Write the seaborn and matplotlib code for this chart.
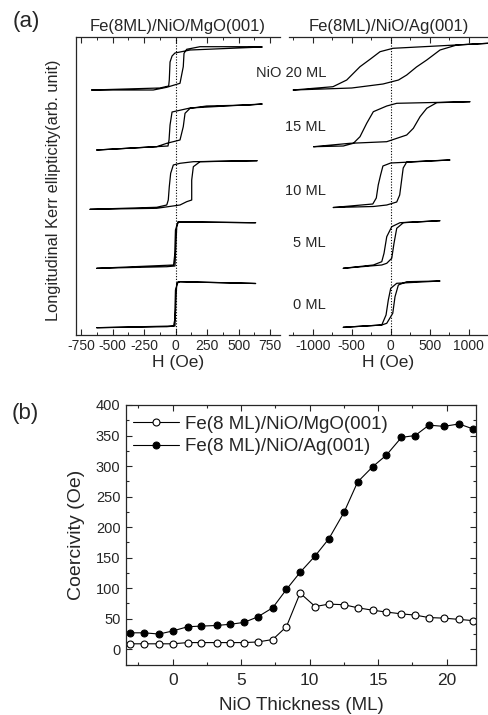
import numpy as np
import pandas as pd
import matplotlib
matplotlib.use("Agg")
import matplotlib.pyplot as plt
import seaborn as sns
from matplotlib.ticker import MultipleLocator

sns.set_style("ticks")
plt.rcParams['font.family'] = ['Liberation Sans', 'DejaVu Sans']
plt.rcParams['xtick.direction'] = 'in'
plt.rcParams['ytick.direction'] = 'in'
plt.rcParams['axes.unicode_minus'] = False

# ---- panel (a): Kerr loops, H in Oe, signal in arb. units (loops stacked) ----
# Fe/NiO/MgO(001)
mgo_20_h = [-667, -178, -71, 34, 60, 66, 87, 193, 590, 687, 115, -6, -29, -45, -51, -56, -125, -667]
mgo_20_k = [245, 245, 247.7, 251.7, 268.3, 281.7, 285.7, 288.3, 288.3, 288, 285, 282, 279, 273, 255, 249, 247, 245]
mgo_15_h = [-627, -151, -71, 34, 60, 74, 114, 246, 590, 687, 114, -29, -45, -53, -61, -627]
mgo_15_k = [185, 188.3, 191.7, 195, 208.3, 221.7, 226.7, 229, 230, 231, 227, 223, 210, 195, 189, 185]
mgo_10_h = [-680, -151, 34, 87, 127, 127, 140, 193, 647, 140, 34, -19, -40, -51, -59, -71, -151, -680]
mgo_10_k = [125.7, 126.7, 130, 133.3, 135, 155, 168.3, 173.3, 174.3, 173.3, 171.7, 170, 161.7, 148.3, 135, 130, 127.7, 125.7]
mgo_5_h = [-627, -71, -6, 0, 8, 21, 193, 590, 635, 18, -2, -8, -17, -627]
mgo_5_k = [66.7, 68.3, 69, 85, 108.3, 113.3, 113, 112.3, 112.3, 113, 105, 80, 70, 66.7]
mgo_0_h = [-627, -71, -6, 2, 8, 34, 590, 635, 18, -2, -8, -17, -627]
mgo_0_k = [7.3, 8.3, 9, 35, 51.7, 53.3, 51.7, 51.5, 53.3, 45, 15, 9, 7.3]

# Fe/NiO/Ag(001)
ag_20_h = [-1249, -500, -99, 100, 205, 330, 462, 632, 846, 1250, 29, -137, -260, -394, -564, -740, -1249]
ag_20_k = [245, 247, 251, 255, 260, 268, 275, 285, 290, 291.7, 286.7, 283.3, 276, 268.3, 255, 248.3, 245]
ag_15_h = [-989, -523, -51, 205, 290, 376, 462, 590, 1017, 77, -51, -223, -308, -394, -479, -608, -989]
ag_15_k = [188.3, 191.7, 193.3, 200, 206.7, 218.3, 226.7, 232.3, 233.3, 231.7, 229, 223.3, 211.7, 198.3, 191.7, 189, 188.3]
ag_10_h = [-736, -223, -51, 77, 115, 140, 160, 205, 462, 760, 0, -100, -130, -160, -185, -230, -736]
ag_10_k = [127.5, 128.5, 130, 133, 140, 155, 167, 173, 174, 175, 172, 169, 160, 150, 137, 131, 127.5]
ag_5_h = [-608, -115, -51, 13, 42, 77, 162, 632, 119, 13, -51, -86, -115, -223, -608]
ag_5_k = [66.7, 70, 71.7, 76.7, 91.7, 106.7, 112.3, 114.3, 112.3, 108.3, 98.3, 81.7, 73.3, 70, 66.7]
ag_0_h = [-608, -115, -51, 26, 55, 98, 205, 632, 77, 0, -31, -60, -115, -608]
ag_0_k = [7.7, 10, 11.7, 21.7, 38.3, 50, 53.3, 54, 51.7, 46.7, 35, 20, 10, 7.7]

mgo_loops = [(mgo_20_h, mgo_20_k), (mgo_15_h, mgo_15_k), (mgo_10_h, mgo_10_k),
             (mgo_5_h, mgo_5_k), (mgo_0_h, mgo_0_k)]
ag_loops = [(ag_20_h, ag_20_k), (ag_15_h, ag_15_k), (ag_10_h, ag_10_k),
            (ag_5_h, ag_5_k), (ag_0_h, ag_0_k)]
loop_labels = ['NiO 20 ML', '15 ML', '10 ML', '5 ML', '0 ML']
loop_label_y = [72.7, 126.7, 190.7, 243, 305]  # pixel rows of the labels

# ---- panel (b): coercivity vs NiO thickness ----
thickness = [-3.1, -2.1, -1.0, 0.0, 1.1, 2.1, 3.2, 4.2, 5.2, 6.2, 7.3, 8.3, 9.3,
             10.4, 11.4, 12.5, 13.5, 14.6, 15.6, 16.7, 17.7, 18.7, 19.8, 20.9, 21.9]
hc_mgo = [9, 9, 9, 9, 11, 11, 11, 11, 11, 12, 16, 37, 92,
          70, 74, 73, 68, 64, 61, 58, 56, 52, 51, 49, 47]
hc_ag = [27, 27, 25, 30, 37, 38, 39, 41, 44, 53, 68, 98, 126,
         153, 181, 224, 274, 299, 318, 347, 350, 367, 365, 369, 361]

W, H = 488, 715
fig = plt.figure(figsize=(W / 100, H / 100), dpi=100)


def ax_px(x0, x1, y0, y1):
    return fig.add_axes([x0 / W, 1 - y1 / H, (x1 - x0) / W, (y1 - y0) / H])


ax_l = ax_px(75.7, 280, 36.7, 335)
ax_r = ax_px(289, 488, 36.7, 335)
ax_b = ax_px(126, 476, 405, 665)

for ax, loops in [(ax_l, mgo_loops), (ax_r, ag_loops)]:
    for h, k in loops:
        sns.lineplot(x=h, y=k, sort=False, estimator=None, color='black', lw=0.9, ax=ax)
    ax.axvline(0, color='black', lw=0.8, ls=(0, (1, 1.5)))
    ax.set_ylim(0, 298.3)
    ax.set_yticks([])
    ax.set_ylabel('')
    ax.tick_params(axis='x', top=True, bottom=True, labelsize=10, length=4, width=0.8, pad=3)
    ax.tick_params(axis='x', which='minor', top=True, bottom=True, length=2.5, width=0.7)
    ax.set_xlabel('H (Oe)', fontsize=12.5, labelpad=1)
    for s in ax.spines.values():
        s.set_linewidth(0.9)
    ax.spines['right'].set_visible(False)

ax_l.set_xlim(-794, 828)
ax_l.set_xticks([-750, -500, -250, 0, 250, 500, 750])
ax_l.xaxis.set_minor_locator(MultipleLocator(125))
ax_r.set_xlim(-1304, 1247)
ax_r.set_xticks([-1000, -500, 0, 500, 1000])
ax_r.xaxis.set_minor_locator(MultipleLocator(250))
ax_r.spines['left'].set_visible(False)

ax_l.set_title('Fe(8ML)/NiO/MgO(001)', fontsize=12, pad=4)
ax_r.set_title('Fe(8ML)/NiO/Ag(001)', fontsize=12, pad=4)

fig.text(53.5 / W, 1 - 190 / H, 'Longitudinal Kerr ellipticity(arb. unit)',
         rotation=90, ha='center', va='center', fontsize=11.8)
for lab, yp in zip(loop_labels, loop_label_y):
    fig.text(326 / W, 1 - yp / H, lab, ha='right', va='center', fontsize=10.5)

fig.text(13 / W, 1 - 21 / H, '(a)', ha='left', va='center', fontsize=16)
fig.text(12 / W, 1 - 413 / H, '(b)', ha='left', va='center', fontsize=16)

# panel (b)
sns.lineplot(x=thickness, y=hc_mgo, ax=ax_b, color='black', lw=0.8, marker='o',
             markersize=5, markerfacecolor='white', markeredgecolor='black',
             markeredgewidth=0.8, label='Fe(8 ML)/NiO/MgO(001)')
sns.lineplot(x=thickness, y=hc_ag, ax=ax_b, color='black', lw=0.8, marker='o',
             markersize=5, markerfacecolor='black', markeredgecolor='black',
             label='Fe(8 ML)/NiO/Ag(001)')
ax_b.set_xlim(-3.41, 22.14)
ax_b.set_ylim(-25.7, 400)
ax_b.set_xticks([0, 5, 10, 15, 20])
ax_b.set_yticks(range(0, 401, 50))
ax_b.xaxis.set_minor_locator(MultipleLocator(2.5))
ax_b.yaxis.set_minor_locator(MultipleLocator(25))
ax_b.tick_params(axis='both', which='both', top=True, right=True, width=0.8)
ax_b.tick_params(axis='both', which='major', length=4)
ax_b.tick_params(axis='both', which='minor', length=2.5)
ax_b.tick_params(axis='x', labelsize=12.5, pad=6)
ax_b.tick_params(axis='y', labelsize=10.5, pad=4)
ax_b.set_xlabel('NiO Thickness (ML)', fontsize=13.5, labelpad=6)
ax_b.set_ylabel('Coercivity (Oe)', fontsize=14, labelpad=8)
for s in ax_b.spines.values():
    s.set_linewidth(0.9)
ax_b.legend(loc='upper left', bbox_to_anchor=(0.0, 0.985), frameon=False, fontsize=13.5,
            handlelength=2.5, handletextpad=0.3, borderaxespad=0.15, labelspacing=0.3,
            borderpad=0.2)

fig.savefig('out.png', dpi=100)
